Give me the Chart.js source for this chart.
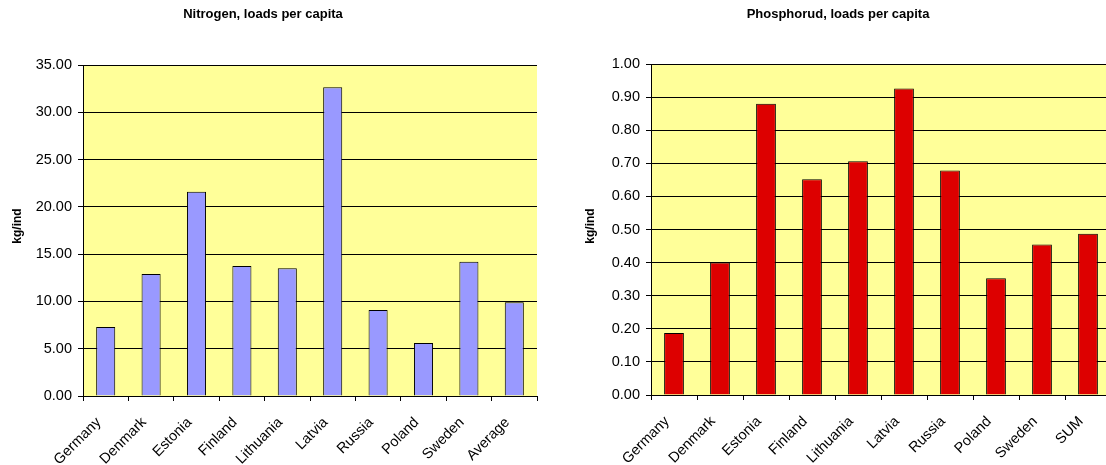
<!DOCTYPE html>
<html>
<head>
<meta charset="utf-8">
<script src="https://cdn.jsdelivr.net/npm/chart.js@4.4.1/dist/chart.umd.min.js"></script>
<style>
  html, body { margin: 0; padding: 0; background: #fff; overflow: hidden; width: 1106px; height: 465px; }
  canvas { position: absolute; top: 0; }
  #c1 { left: 0; }
  #c2 { left: 553px; }
</style>
</head>
<body>
<canvas id="c1" width="553" height="465"></canvas>
<canvas id="c2" width="565" height="465"></canvas>
<script>
// ---- Data ----
const nitrogenCategories = ["Germany", "Denmark", "Estonia", "Finland", "Lithuania", "Latvia", "Russia", "Poland", "Sweden", "Average"];
const nitrogenValues = [7.3, 12.9, 21.6, 13.75, 13.5, 32.65, 9.1, 5.6, 14.2, 9.9];
const nitrogenTitle = "Nitrogen, loads per capita";

const phosphorusCategories = ["Germany", "Denmark", "Estonia", "Finland", "Lithuania", "Latvia", "Russia", "Poland", "Sweden", "SUM"];
const phosphorusValues = [0.187, 0.40, 0.88, 0.652, 0.706, 0.926, 0.678, 0.353, 0.455, 0.487];
const phosphorusTitle = "Phosphorud, loads per capita";

const yAxisTitle = "kg/ind";
const nitrogenTicks = { min: 0, max: 35, step: 5 };
const phosphorusTicks = { min: 0, max: 1, step: 0.1 };

// ---- Styling ----
Chart.defaults.color = '#000';
Chart.defaults.font.family = '"Liberation Sans", Arial, sans-serif';
const FONT = '"Liberation Sans", Arial, sans-serif';

const plotBg = {
  id: 'plotBg',
  beforeDraw(chart) {
    const {ctx, chartArea: a} = chart;
    ctx.save();
    ctx.fillStyle = '#FFFF99';
    ctx.fillRect(a.left, a.top, a.right - a.left, a.bottom - a.top);
    ctx.restore();
  }
};

const texts = {
  id: 'texts',
  afterDraw(chart, args, opts) {
    const ctx = chart.ctx;
    ctx.save();
    ctx.fillStyle = '#000';
    ctx.textAlign = 'center';
    ctx.textBaseline = 'middle';
    ctx.font = 'bold 13px ' + FONT;
    ctx.fillText(opts.title, opts.titleX, opts.titleY);
    ctx.font = 'bold 12px ' + FONT;
    ctx.translate(opts.yTitleX, opts.yTitleY);
    ctx.rotate(-Math.PI / 2);
    ctx.fillText(opts.yTitle, 0, 0);
    ctx.restore();
  }
};

function makeChart(id, cats, vals, color, tk, layout) {
  return new Chart(document.getElementById(id), {
    type: 'bar',
    data: {
      labels: cats,
      datasets: [{
        data: vals,
        backgroundColor: color,
        borderColor: '#000',
        borderWidth: 1,
        categoryPercentage: 1,
        barPercentage: layout.barPct
      }]
    },
    options: {
      responsive: false,
      animation: false,
      events: [],
      layout: { padding: { left: 0, top: layout.top, right: layout.right, bottom: 0 } },
      plugins: {
        legend: { display: false },
        tooltip: { enabled: false },
        title: { display: false },
        texts: { title: layout.title, titleX: layout.titleX, titleY: 14, yTitle: yAxisTitle, yTitleX: layout.yTitleX, yTitleY: 226 }
      },
      scales: {
        x: {
          offset: true,
          grid: { offset: true, drawOnChartArea: false, drawTicks: true, tickLength: 5, color: '#000' },
          border: { color: '#000', width: 1 },
          ticks: { font: { size: 14.5 }, minRotation: 45, maxRotation: 45, padding: 13, labelOffset: -7, autoSkip: false },
          afterFit(s) { s.height = layout.xH; }
        },
        y: {
          min: tk.min, max: tk.max,
          grid: { color: '#000', tickLength: 5, drawTicks: true },
          border: { color: '#000', width: 1 },
          ticks: {
            stepSize: tk.step,
            font: { size: 14.5 },
            padding: 6,
            callback: v => Number(v).toFixed(2)
          },
          afterFit(s) { s.width = layout.yW; }
        }
      }
    },
    plugins: [plotBg, texts]
  });
}

makeChart('c1', nitrogenCategories, nitrogenValues, '#9999FF', nitrogenTicks,
  { top: 65, right: 16, xH: 69, yW: 83, barPct: 0.42, title: nitrogenTitle, titleX: 263, yTitleX: 18 });
makeChart('c2', phosphorusCategories, phosphorusValues, '#DD0000', phosphorusTicks,
  { top: 64, right: 7, xH: 70, yW: 98, barPct: 0.43, title: phosphorusTitle, titleX: 285, yTitleX: 38 });
</script>
</body>
</html>
